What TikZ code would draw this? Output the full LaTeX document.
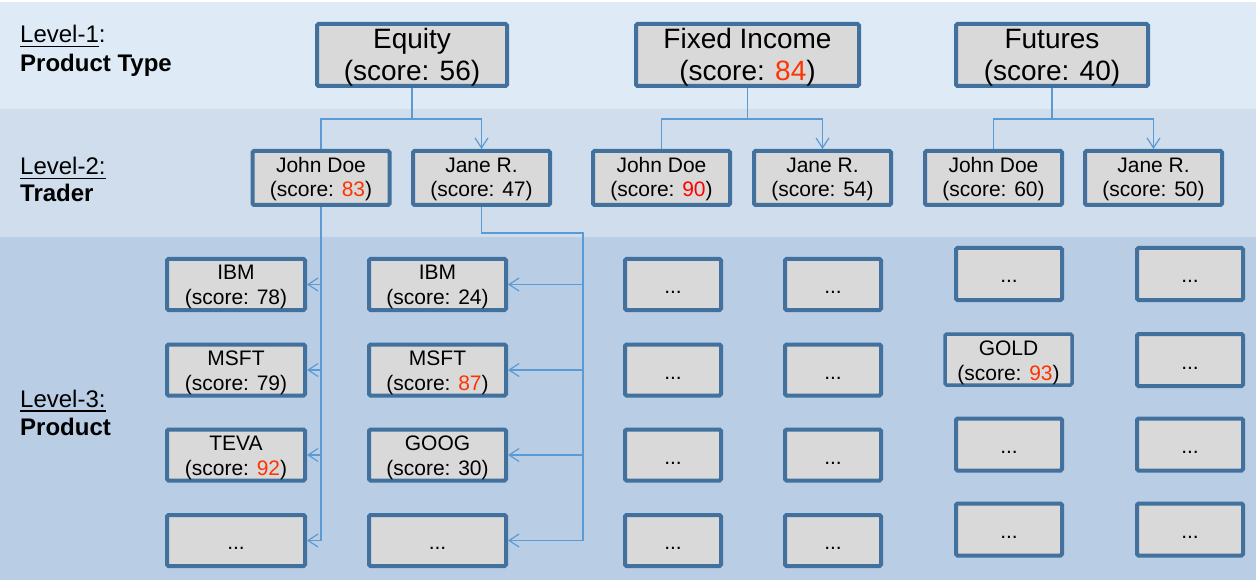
\documentclass[tikz,border=0pt]{standalone}
\usepackage{fontspec}
\setmainfont{Liberation Sans}
\usetikzlibrary{arrows.meta}
\definecolor{bandA}{HTML}{DEEBF7}
\definecolor{bandB}{HTML}{CFDDED}
\definecolor{bandC}{HTML}{B9CDE5}
\definecolor{boxfill}{HTML}{D9D9D9}
\definecolor{boxline}{HTML}{41719C}
\definecolor{conncol}{HTML}{5B9BD5}
\definecolor{hot}{HTML}{FF3300}
\definecolor{hotter}{HTML}{FF0000}
\newcommand\lvlul[1]{\setbox0\hbox{#1}\rlap{\rule[-4.5pt]{\wd0}{1.8pt}}\box0}
\newcommand\hi[1]{\textcolor{hot}{#1}}
\begin{document}
\begin{tikzpicture}[x=1pt,y=-1pt,
 box/.style={draw=boxline, fill=boxfill, line width=4pt, rounded corners=1.5pt, inner sep=0pt, align=center},
 bigbox/.style={box, minimum height=62pt, font=\fontsize{28}{32}\selectfont, text height=56pt, text depth=4pt},
 midbox/.style={box, minimum width=137pt, minimum height=54pt, font=\fontsize{21}{24}\selectfont, text height=40pt, text depth=2pt},
 smallbox/.style={box, minimum height=51pt, font=\fontsize{21}{25}\selectfont, text height=43pt, text depth=2pt},
 dotbox/.style={box, minimum height=51pt, font=\fontsize{21}{25}\selectfont, text height=20pt, text depth=2pt},
 conn/.style={draw=conncol, line width=1.2pt},
 trunk/.style={draw=conncol, line width=2.2pt},
 arr/.style={-{Straight Barb[length=10pt,width=13pt]}},
 lvl/.style={anchor=base west, inner sep=0pt, font=\fontsize{24}{29}\selectfont}
]
\useasboundingbox (0,0) rectangle (1256,580);
% bands
\fill[white] (0,0) rectangle (1256,580);
\fill[bandA] (0,2) rectangle (1256,109);
\fill[bandB] (0,109) rectangle (1256,237);
\fill[bandC] (0,237) rectangle (1256,580);

% level labels
\node[lvl] (l1a) at (20,43) {\lvlul{Level-1}:};
\node[lvl] (l1b) at (20,72) {\bfseries Product Type};
\node[lvl] (l2a) at (20,175) {\lvlul{Level-2:}};
\node[lvl] (l2b) at (20,202) {\bfseries Trader};
\node[lvl] (l3a) at (20,407) {\lvlul{Level-3:}};
\node[lvl] (l3b) at (20,435) {\bfseries Product};

% level 1
\node[bigbox, minimum width=190pt] (eq) at (412,55) {Equity\\(score: 56)};
\node[bigbox, minimum width=223pt] (fi) at (747.5,55) {Fixed Income\\(score: \hi{84})};
\node[bigbox, minimum width=192pt] (fu) at (1052,55) {Futures\\(score: 40)};

% level 2
\node[midbox] (eqJD) at (321,178) {John Doe\\(score: \hi{83})};
\node[midbox] (eqJ) at (481.5,178) {Jane R.\\(score: 47)};
\node[midbox] (fiJD) at (661.5,178) {John Doe\\(score: \textcolor{hotter}{90})};
\node[midbox] (fiJ) at (822.5,178) {Jane R.\\(score: 54)};
\node[midbox] (fuJD) at (993.5,178) {John Doe\\(score: 60)};
\node[midbox] (fuJ) at (1153.5,178) {Jane R.\\(score: 50)};

% level 3, column 1 and 2
\node[smallbox, minimum width=138pt] (a1) at (236,284.5) {IBM\\(score: 78)};
\node[smallbox, minimum width=138pt] (a2) at (236,370) {MSFT\\(score: 79)};
\node[smallbox, minimum width=138pt] (a3) at (236,455) {TEVA\\(score: \hi{92})};
\node[dotbox, minimum width=138pt] (a4) at (236,540.5) {...};
\node[smallbox, minimum width=137pt] (b1) at (437.5,284.5) {IBM\\(score: 24)};
\node[smallbox, minimum width=137pt] (b2) at (437.5,370) {MSFT\\(score: \hi{87})};
\node[smallbox, minimum width=137pt] (b3) at (437.5,455) {GOOG\\(score: 30)};
\node[dotbox, minimum width=137pt] (b4) at (437.5,540.5) {...};
% columns 3 and 4
\node[dotbox, minimum width=96pt] (c1) at (673,284.5) {...};
\node[dotbox, minimum width=96pt] (c2) at (673,370) {...};
\node[dotbox, minimum width=96pt] (c3) at (673,455) {...};
\node[dotbox, minimum width=96pt] (c4) at (673,540.5) {...};
\node[dotbox, minimum width=96pt] (d1) at (833,284.5) {...};
\node[dotbox, minimum width=96pt] (d2) at (833,370) {...};
\node[dotbox, minimum width=96pt] (d3) at (833,455) {...};
\node[dotbox, minimum width=96pt] (d4) at (833,540.5) {...};
% columns 5 and 6
\node[dotbox, minimum width=106pt, minimum height=52pt] (e1) at (1009,274) {...};
\node[smallbox, minimum width=127pt, line width=3.5pt] (e2) at (1008.5,359.5) {GOLD\\(score: \hi{93})};
\node[dotbox, minimum width=106pt, minimum height=52pt] (e3) at (1009,444.5) {...};
\node[dotbox, minimum width=106pt, minimum height=52pt] (e4) at (1009,529.5) {...};
\node[dotbox, minimum width=106pt, minimum height=52pt] (f1) at (1190,274) {...};
\node[dotbox, minimum width=106pt, minimum height=52pt] (f2) at (1190,360) {...};
\node[dotbox, minimum width=106pt, minimum height=52pt] (f3) at (1190,444.5) {...};
\node[dotbox, minimum width=106pt, minimum height=52pt] (f4) at (1190,529.5) {...};

% connectors level 1 -> level 2
\draw[conn] (eq.south) -- ++(0,31) -| (eqJD.north);
\draw[conn,arr] (eq.south) -- ++(0,31) -| (eqJ.north);
\draw[conn] (fi.south) -- ++(0,31) -| (fiJD.north);
\draw[conn,arr] (fi.south) -- ++(0,31) -| (fiJ.north);
\draw[conn] (fu.south) -- ++(0,31) -| (fuJD.north);
\draw[conn,arr] (fu.south) -- ++(0,31) -| (fuJ.north);

% connectors John Doe (Equity) -> products
\foreach \n in {a1,a2,a3,a4}
  \draw[conn,arr] (eqJD.south) |- (\n.east);

% connectors Jane R. (Equity) -> products
\coordinate (jt) at (583,233);
\draw[conn] (eqJ.south) |- (jt);
\draw[trunk] (eqJ.south |- jt) -- (jt) -- (jt |- b4.east);
\foreach \n in {b1,b2,b3,b4}
  \draw[conn,arr] (jt) |- (\n.east);
\end{tikzpicture}
\end{document}
